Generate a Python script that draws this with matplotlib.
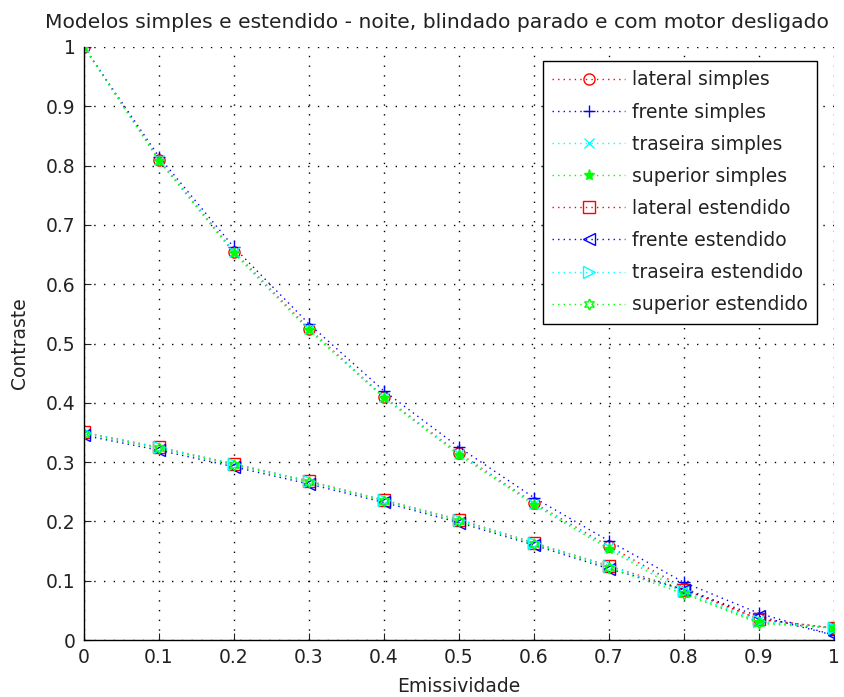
import matplotlib
matplotlib.use("Agg")
import matplotlib.pyplot as plt

emissividade = [0.0, 0.1, 0.2, 0.3, 0.4, 0.5, 0.6, 0.7, 0.8, 0.9, 1.0]

lateral_simples = [1.0, 0.81, 0.655, 0.525, 0.41, 0.315, 0.231, 0.158, 0.088, 0.035, 0.02]
frente_simples = [1.0, 0.815, 0.662, 0.533, 0.42, 0.325, 0.240, 0.167, 0.097, 0.045, 0.008]
traseira_simples = [1.0, 0.81, 0.655, 0.524, 0.41, 0.314, 0.230, 0.156, 0.085, 0.033, 0.02]
superior_simples = [1.0, 0.808, 0.652, 0.522, 0.408, 0.312, 0.228, 0.153, 0.080, 0.030, 0.02]
lateral_estendido = [0.35, 0.325, 0.297, 0.268, 0.236, 0.203, 0.164, 0.125, 0.085, 0.035, 0.02]
frente_estendido = [0.345, 0.320, 0.292, 0.263, 0.232, 0.198, 0.160, 0.120, 0.085, 0.040, 0.008]
traseira_estendido = [0.35, 0.325, 0.297, 0.268, 0.236, 0.203, 0.164, 0.125, 0.082, 0.032, 0.02]
superior_estendido = [0.348, 0.323, 0.295, 0.266, 0.234, 0.200, 0.162, 0.122, 0.078, 0.028, 0.02]

series = [
    ("lateral simples", lateral_simples, "red", "o"),
    ("frente simples", frente_simples, "blue", "+"),
    ("traseira simples", traseira_simples, "cyan", "x"),
    ("superior simples", superior_simples, "lime", "*"),
    ("lateral estendido", lateral_estendido, "red", "s"),
    ("frente estendido", frente_estendido, "blue", "<"),
    ("traseira estendido", traseira_estendido, "cyan", ">"),
    ("superior estendido", superior_estendido, "lime", (6, 1, 0)),
]

xticks = [0, 0.1, 0.2, 0.3, 0.4, 0.5, 0.6, 0.7, 0.8, 0.9, 1]
xticklabels = ["0", "0.1", "0.2", "0.3", "0.4", "0.5", "0.6", "0.7", "0.8", "0.9", "1"]
yticks = [0, 0.1, 0.2, 0.3, 0.4, 0.5, 0.6, 0.7, 0.8, 0.9, 1]
yticklabels = ["0", "0.1", "0.2", "0.3", "0.4", "0.5", "0.6", "0.7", "0.8", "0.9", "1"]

plt.rcParams["font.family"] = ["DejaVu Sans"]

fig = plt.figure(figsize=(8.45, 6.97), dpi=100)
ax = fig.add_axes([84 / 845, 57 / 697, 750 / 845, 593 / 697])

for label, vals, color, marker in series:
    filled = marker in ("+", "x", "*")
    ms = 7 if marker == "x" else 8
    ax.plot(emissividade, vals, linestyle=(0, (1, 3)), linewidth=1.0, color=color,
            marker=marker, markersize=ms, markeredgewidth=1.0,
            markerfacecolor=color if filled else "none", markeredgecolor=color,
            label=label)

ax.set_xlim(0, 1)
ax.set_ylim(0, 1)
ax.set_xticks(xticks)
ax.set_xticklabels(xticklabels)
ax.set_yticks(yticks)
ax.set_yticklabels(yticklabels)
ax.tick_params(direction="in", length=5, labelsize=13.5, pad=6, colors="#222222")
ax.grid(True, color="black", linestyle=(0, (1, 6)), linewidth=1.0)
ax.set_axisbelow(True)
for s in ("top", "right"):
    ax.spines[s].set_visible(False)
for s in ("left", "bottom"):
    ax.spines[s].set_linewidth(1.0)

fig.text(437 / 845, 1 - 22 / 697,
         "Modelos simples e estendido - noite, blindado parado e com motor desligado",
         fontsize=14.6, ha="center", va="center", color="#222222")
ax.set_xlabel("Emissividade", fontsize=13.5, labelpad=7, color="#222222")
ax.set_ylabel("Contraste", fontsize=13.5, labelpad=12, color="#222222")

leg = ax.legend(loc="upper right", bbox_to_anchor=((817 - 84) / 750, (640 - 61) / 593),
                fontsize=13.5, frameon=True, fancybox=False, edgecolor="black",
                framealpha=1, borderpad=0.5, labelspacing=0.7, handlelength=3.9,
                handletextpad=0.35, borderaxespad=0)
leg.get_frame().set_linewidth(1.0)
for t in leg.get_texts():
    t.set_color("#222222")

fig.savefig("out.png", dpi=100)
